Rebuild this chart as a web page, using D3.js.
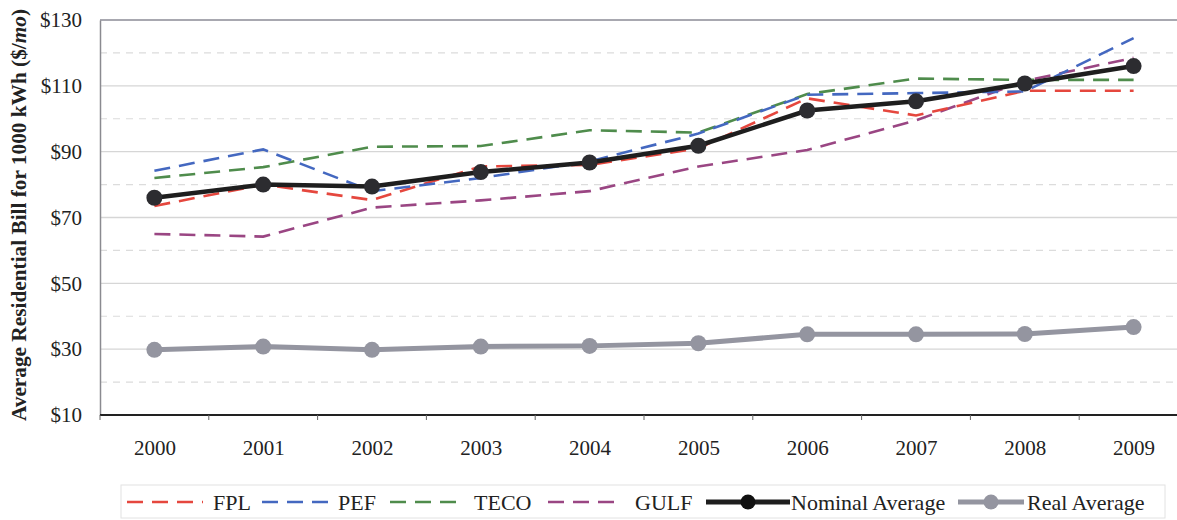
<!DOCTYPE html>
<html>
<head>
<meta charset="utf-8">
<script src="https://cdn.jsdelivr.net/npm/d3@7"></script>
<style>
  html, body { margin: 0; padding: 0; background: #fff; }
  svg { display: block; }
  text { font-family: "Liberation Serif", "DejaVu Serif", serif; fill: #222; }
</style>
</head>
<body>
<svg id="chart" width="1177" height="520"></svg>
<script>
const years = ["2000","2001","2002","2003","2004","2005","2006","2007","2008","2009"];
const fpl     = [73.5, 80, 75.3, 85.5, 86, 91, 106.2, 101, 108.5, 108.5];
const pef     = [84.2, 90.7, 78, 82, 87, 95.5, 107.3, 107.8, 108.3, 124.5];
const teco    = [82, 85.3, 91.5, 91.7, 96.5, 95.8, 107.5, 112.2, 111.8, 111.8];
const gulf    = [65, 64.2, 73, 75.2, 78, 85.5, 90.5, 99.5, 111.5, 118.5];
const nominal = [76, 80, 79.4, 83.8, 86.7, 91.8, 102.5, 105.3, 110.7, 116];
const real    = [29.8, 30.8, 29.8, 30.8, 31, 31.8, 34.5, 34.5, 34.6, 36.7];
const yTicks  = [10, 30, 50, 70, 90, 110, 130];
const yMinor  = [20, 40, 60, 80, 100, 120];
const seriesNames = ["FPL", "PEF", "TECO", "GULF", "Nominal Average", "Real Average"];

const svg = d3.select("#chart");
const mLeft = 100, mRight = 1188, mTop = 20, mBottom = 415;

const x = d3.scalePoint().domain(years).range([mLeft, mRight]).padding(0.5);
const y = d3.scaleLinear().domain([10, 130]).range([mBottom, mTop]);

// minor dashed gridlines
svg.append("g").selectAll("line").data(yMinor).join("line")
  .attr("x1", mLeft).attr("x2", 1177)
  .attr("y1", d => y(d)).attr("y2", d => y(d))
  .attr("stroke", "#dcdcdc").attr("stroke-width", 1.2)
  .attr("stroke-dasharray", "7,6");

// major gridlines
svg.append("g").selectAll("line").data(yTicks.filter(d => d > 10)).join("line")
  .attr("x1", mLeft).attr("x2", 1177)
  .attr("y1", d => y(d)).attr("y2", d => y(d))
  .attr("stroke", d => d === 130 ? "#a8a8b0" : "#d6d6d6")
  .attr("stroke-width", d => d === 130 ? 2 : 1.3);

// y axis
const yAxis = d3.axisLeft(y).tickValues(yTicks).tickFormat(d => "$" + d).tickSize(0).tickPadding(18);
const gy = svg.append("g").attr("transform", `translate(${mLeft},0)`).call(yAxis);
gy.select(".domain").attr("stroke", "#8a8a90").attr("stroke-width", 1.5);
gy.selectAll("text").style("font-size", "21px").style("font-family", "Liberation Serif, serif").attr("fill", "#222");

// x axis
const bands = d3.range(years.length + 1).map(i => mLeft + i * (mRight - mLeft) / years.length);
const xAxis = d3.axisBottom(x).tickSize(0).tickPadding(25);
const gx = svg.append("g").attr("transform", `translate(0,${mBottom})`).call(xAxis);
gx.select(".domain").remove();
gx.append("line").attr("x1", mLeft).attr("x2", 1177).attr("y1", 0).attr("y2", 0)
  .attr("stroke", "#222").attr("stroke-width", 1.8);
gx.selectAll(".bt").data(bands.filter(b => b < 1177)).join("line").attr("class", "bt")
  .attr("x1", d => d).attr("x2", d => d).attr("y1", 0).attr("y2", 5)
  .attr("stroke", "#666").attr("stroke-width", 1);
gx.selectAll("text").style("font-size", "21px").style("font-family", "Liberation Serif, serif").attr("fill", "#222");

// y title
const yt = svg.append("text")
  .attr("transform", `translate(26,215) rotate(-90)`)
  .attr("text-anchor", "middle")
  .style("font-size", "21.3px").style("font-weight", "bold");
yt.append("tspan").text("Average Residential Bill for 1000 kWh ($/");
yt.append("tspan").style("font-style", "italic").text("mo");
yt.append("tspan").text(")");

const line = d3.line().x((d, i) => x(years[i])).y(d => y(d));

const dashed = [
  {name: "FPL", data: fpl, color: "#e5473e"},
  {name: "PEF", data: pef, color: "#4468c0"},
  {name: "TECO", data: teco, color: "#4f8c4c"},
  {name: "GULF", data: gulf, color: "#9a4683"}
];

// real average
svg.append("path").datum(real).attr("d", line).attr("fill", "none")
  .attr("stroke", "#9495a0").attr("stroke-width", 5);
svg.append("g").selectAll("circle").data(real).join("circle")
  .attr("cx", (d, i) => x(years[i])).attr("cy", d => y(d)).attr("r", 8)
  .attr("fill", "#9495a0");

// dashed series
const order = [dashed[3], dashed[2], dashed[0], dashed[1]];
order.forEach(s => {
  svg.append("path").datum(s.data).attr("d", line).attr("fill", "none")
    .attr("stroke", s.color).attr("stroke-width", 2.6)
    .attr("stroke-dasharray", "16,9");
});

// nominal average
svg.append("path").datum(nominal).attr("d", line).attr("fill", "none")
  .attr("stroke", "#1e1e1e").attr("stroke-width", 4.5);
svg.append("g").selectAll("circle").data(nominal).join("circle")
  .attr("cx", (d, i) => x(years[i])).attr("cy", d => y(d)).attr("r", 8)
  .attr("fill", "#2c2c30");

// legend
const lg = svg.append("g");
lg.append("rect").attr("x", 121).attr("y", 485).attr("width", 1044).attr("height", 33)
  .attr("fill", "#fff").attr("stroke", "#e2e2e2").attr("stroke-width", 1);
const ly = 502;
const items = [
  {name: seriesNames[0], color: dashed[0].color, x0: 127, x1: 203, tx: 213, type: "dash"},
  {name: seriesNames[1], color: dashed[1].color, x0: 262, x1: 328, tx: 338, type: "dash"},
  {name: seriesNames[2], color: dashed[2].color, x0: 390, x1: 462, tx: 474, type: "dash"},
  {name: seriesNames[3], color: dashed[3].color, x0: 548, x1: 620, tx: 635, type: "dash"},
  {name: seriesNames[4], color: "#1e1e1e", x0: 706, x1: 790, tx: 791, type: "nom"},
  {name: seriesNames[5], color: "#9495a0", x0: 958, x1: 1024, tx: 1027, type: "real"}
];
items.forEach(it => {
  if (it.type === "dash") {
    lg.append("line").attr("x1", it.x0).attr("x2", it.x1).attr("y1", ly).attr("y2", ly)
      .attr("stroke", it.color).attr("stroke-width", 2.6).attr("stroke-dasharray", "16,9");
  } else {
    lg.append("line").attr("x1", it.x0).attr("x2", it.x1).attr("y1", ly).attr("y2", ly)
      .attr("stroke", it.color).attr("stroke-width", 5);
    lg.append("circle").attr("cx", (it.x0 + it.x1) / 2).attr("cy", ly).attr("r", 7.5)
      .attr("fill", it.type === "nom" ? "#111" : it.color);
  }
  lg.append("text").attr("x", it.tx).attr("y", ly + 7.5).style("font-size", "22px").text(it.name);
});
</script>
</body>
</html>
